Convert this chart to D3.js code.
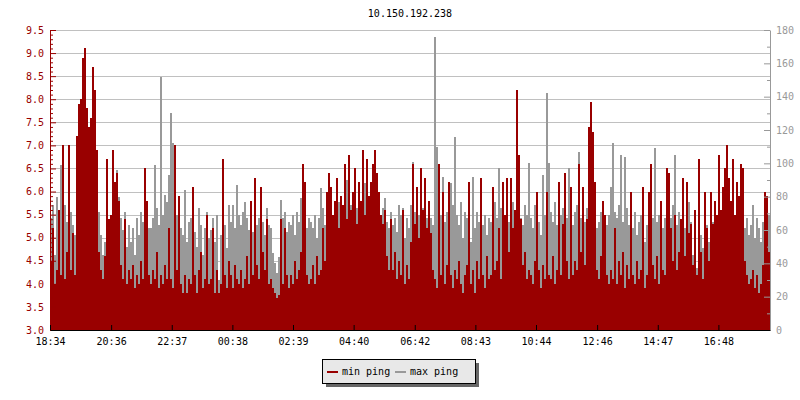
<!DOCTYPE html>
<html><head><meta charset="utf-8">
<script src="https://cdn.jsdelivr.net/npm/d3@7"></script>
<style>
body{margin:0;background:#fff}
text{font-family:"DejaVu Sans Mono",monospace;font-size:10px}
</style>
</head><body>
<svg id="c" width="800" height="400"></svg>
<script>
const title = "10.150.192.238";
const xLabels = ["18:34","20:36","22:37","00:38","02:39","04:40","06:42","08:43","10:44","12:46","14:47","16:48"];
const spanMinutes = 1437;
const leftTicks = [3.0,3.5,4.0,4.5,5.0,5.5,6.0,6.5,7.0,7.5,8.0,8.5,9.0,9.5];
const rightTicks = [0,20,40,60,80,100,120,140,160,180];
const seriesNames = ["min ping","max ping"];

// min ping (ms, left axis)
const minPing = [
4.5,5.2,4.0,4.3,5.6,4.2,7.0,4.1,4.7,7.0,
4.3,5.1,4.2,7.2,7.9,8.0,8.9,9.1,7.8,7.4,
7.6,8.7,8.2,6.9,4.7,4.3,4.1,4.6,6.7,5.4,
5.5,6.9,6.2,6.4,5.8,4.4,4.1,5.4,4.0,4.3,
4.1,4.4,3.9,4.2,4.0,4.5,4.1,6.5,5.8,4.2,
4.0,4.3,4.1,4.7,3.9,4.2,4.0,4.4,4.1,5.2,
4.1,3.9,7.0,4.3,5.9,4.0,3.8,4.2,3.8,4.1,
4.0,6.1,4.2,3.8,4.3,4.7,3.9,4.1,5.5,4.0,
4.1,5.2,3.8,4.3,3.8,4.0,6.7,4.2,3.9,4.5,
4.2,3.9,4.4,4.1,4.0,4.3,3.9,4.1,4.6,4.0,
5.8,4.2,6.3,4.4,4.1,6.1,4.7,4.3,5.4,4.0,
4.1,3.9,3.8,3.7,3.75,5.4,4.0,5.2,4.2,3.9,
4.2,4.0,4.5,4.1,4.3,4.7,6.6,6.2,4.2,4.0,
4.1,4.4,4.0,4.6,4.2,4.3,5.2,4.5,6.0,6.4,
6.1,5.5,5.8,6.3,5.2,5.9,5.7,6.6,5.4,6.8,
5.6,6.0,6.5,5.3,6.2,5.8,6.9,5.5,6.7,5.9,
6.2,6.6,6.9,6.4,6.0,5.5,5.3,5.6,4.6,4.3,
5.4,4.3,4.7,4.1,4.5,4.2,5.6,4.0,4.4,4.1,
4.9,6.6,5.3,6.1,5.0,6.5,5.6,6.3,5.2,5.8,
5.1,4.3,4.1,3.9,6.6,4.2,6.0,4.0,4.4,6.2,
4.2,3.9,4.3,4.1,4.5,4.0,3.8,4.2,4.4,6.2,
4.0,4.3,3.8,4.5,4.1,6.3,4.2,3.9,4.6,4.1,
4.2,6.1,4.3,4.5,5.2,4.1,6.2,5.5,6.3,4.7,
6.3,5.2,5.6,8.2,6.8,5.4,4.4,4.7,4.1,4.3,
4.2,4.0,4.5,6.0,4.3,3.9,4.4,4.1,6.0,4.2,
4.1,4.6,4.0,4.3,6.2,4.2,5.3,6.4,4.5,4.1,
6.1,4.2,4.5,4.3,6.6,4.7,6.1,4.4,5.4,7.4,
7.95,7.3,6.2,4.3,4.1,4.6,5.8,5.5,4.2,4.0,
4.3,4.1,5.2,4.0,4.5,4.2,4.7,3.9,4.4,4.1,
6.0,4.2,4.0,4.5,4.1,4.3,6.1,3.9,4.2,6.0,
6.6,4.4,4.1,4.6,4.0,5.8,4.3,4.2,6.5,6.4,
5.2,4.5,5.5,4.3,4.7,5.4,6.3,4.6,6.2,5.1,
5.3,4.4,5.6,4.2,6.7,4.7,4.1,6.0,5.2,4.5,
6.0,5.3,5.8,5.5,6.8,5.6,6.1,6.5,7.0,6.3,
5.8,6.7,5.5,6.2,5.9,6.6,6.5,4.5,4.2,4.0,
4.1,4.3,3.9,4.2,3.8,4.0,4.4,6.0,5.9,4.7
];

// max ping (ms, right axis)
const maxPing = [
67,75,45,80,63,99,71,75,65,67,
71,63,57,85,110,100,95,95,90,95,
105,95,100,90,71,57,45,53,65,61,
65,75,85,96,80,67,60,71,50,63,
53,61,45,67,57,71,65,97,75,61,
61,67,99,73,63,152,69,81,77,93,
130,112,85,69,75,61,57,84,53,65,
67,80,59,50,73,63,45,61,71,55,
60,67,53,69,30,57,71,63,49,75,
65,75,61,87,69,63,71,77,67,60,
71,59,75,63,67,77,65,57,73,63,
61,46,40,34,44,78,67,71,59,65,
63,69,57,71,65,79,67,69,61,67,
65,61,69,55,67,85,73,63,75,77,
71,67,75,65,77,71,63,85,90,73,
75,69,81,73,77,65,83,88,79,71,
75,81,85,71,77,67,73,79,65,61,
71,63,67,59,75,69,73,55,67,61,
75,101,71,79,69,77,73,81,67,71,
67,63,176,110,77,69,92,65,71,59,
88,75,116,69,63,77,55,71,67,79,
53,92,61,71,65,75,63,69,57,67,
65,71,77,67,97,73,75,69,79,65,
73,77,71,81,85,67,63,75,69,100,
67,61,75,71,65,57,93,69,142,100,
71,65,77,63,75,69,73,79,67,97,
69,63,71,75,107,67,77,65,73,79,
75,73,69,61,65,71,77,67,63,69,
86,112,71,67,75,105,65,104,73,63,
67,61,71,57,65,69,75,53,63,71,
71,67,109,65,69,73,61,67,75,71,
67,75,105,63,71,65,73,61,69,77,
65,45,61,37,69,57,49,71,63,53,
71,65,75,63,77,69,73,67,79,75,
71,77,65,69,67,73,75,61,67,57,
63,75,55,67,61,53,65,71,63,69
];

const RED = "#990000", GREY = "#999999";
const svg = d3.select("#c");
const M = {l:50, r:770, t:30, b:330};

const yL = d3.scaleLinear().domain([3.0, 9.5]).range([M.b, M.t]);
const yR = d3.scaleLinear().domain([0, 180]).range([M.b, M.t]);
const xi = d3.scaleLinear().domain([0, minPing.length]).range([M.l, M.r]);
const xt = d3.scaleLinear().domain([0, spanMinutes]).range([M.l, M.r]);

const t0 = 18*60 + 34;
const tickMinutes = xLabels.map(s => {
  const [h, m] = s.split(":").map(Number);
  let v = h*60 + m - t0; if (v < 0) v += 1440; return v;
});

// title
svg.append("text").attr("x", (M.l+M.r)/2).attr("y", 17).attr("text-anchor","middle").attr("fill","#000").text(title);

// grid
svg.append("g").selectAll("line").data(leftTicks.filter(d => d > 3.0)).join("line")
  .attr("x1", M.l).attr("x2", M.r)
  .attr("y1", d => Math.round(yL(d)) + 0.5).attr("y2", d => Math.round(yL(d)) + 0.5)
  .attr("stroke", "#c0c0c0").attr("stroke-width", 1);

// max ping bars (grey, behind)
svg.append("g").attr("shape-rendering","crispEdges").selectAll("rect").data(maxPing).join("rect")
  .attr("x", (d,i) => xi(i)).attr("width", (d,i) => xi(i+1) - xi(i))
  .attr("y", d => yR(d)).attr("height", d => yR(0) - yR(d))
  .attr("fill", GREY);

// min ping bars (red, front)
svg.append("g").attr("shape-rendering","crispEdges").selectAll("rect").data(minPing).join("rect")
  .attr("x", (d,i) => xi(i)).attr("width", (d,i) => xi(i+1) - xi(i))
  .attr("y", d => yL(d)).attr("height", d => yL(3.0) - yL(d))
  .attr("fill", RED);

// left axis
const leftMinor = d3.range(30, 96).filter(v => v % 5 !== 0).map(v => v/10);
const gLm = svg.append("g").attr("transform", `translate(${M.l},0)`)
  .call(d3.axisLeft(yL).tickValues(leftMinor).tickFormat("").tickSizeInner(-3).tickSizeOuter(0));
gLm.select(".domain").remove();
gLm.selectAll("line").attr("stroke", RED);
const gL = svg.append("g").attr("transform", `translate(${M.l},0)`)
  .call(d3.axisLeft(yL).tickValues(leftTicks).tickFormat(d3.format(".1f")).tickSizeInner(-6).tickSizeOuter(0).tickPadding(6));
gL.selectAll("line,path").attr("stroke", RED);
gL.selectAll("text").attr("fill", RED);

// right axis
const rightMinor = d3.range(10, 180, 20);
const gRm = svg.append("g").attr("transform", `translate(${M.r},0)`)
  .call(d3.axisRight(yR).tickValues(rightMinor).tickFormat("").tickSizeInner(-3).tickSizeOuter(0));
gRm.select(".domain").remove();
gRm.selectAll("line").attr("stroke", GREY);
const gR = svg.append("g").attr("transform", `translate(${M.r},0)`)
  .call(d3.axisRight(yR).tickValues(rightTicks).tickSizeInner(-6).tickSizeOuter(0).tickPadding(6));
gR.selectAll("line,path").attr("stroke", GREY);
gR.selectAll("text").attr("fill", GREY);

// bottom axis
const gB = svg.append("g").attr("transform", `translate(0,${M.b})`)
  .call(d3.axisBottom(xt).tickValues(tickMinutes).tickFormat((d,i) => xLabels[i]).tickSizeInner(-5).tickSizeOuter(0).tickPadding(8));
gB.selectAll("line,path").attr("stroke", "#000");
gB.selectAll("text").attr("fill", "#000");

// legend
const lg = svg.append("g");
lg.append("rect").attr("x", 326).attr("y", 363).attr("width", 153).attr("height", 24).attr("fill", "#666");
lg.append("rect").attr("x", 322.5).attr("y", 359.5).attr("width", 153).attr("height", 24).attr("fill", "#e8e8e8").attr("stroke", "#000");
const items = [{name: seriesNames[0], color: RED, x: 327}, {name: seriesNames[1], color: GREY, x: 395}];
items.forEach(it => {
  lg.append("line").attr("x1", it.x).attr("x2", it.x + 11).attr("y1", 372).attr("y2", 372).attr("stroke", it.color).attr("stroke-width", 2);
  lg.append("text").attr("x", it.x + 15).attr("y", 375).attr("fill", "#000").text(it.name);
});
</script>
</body></html>
